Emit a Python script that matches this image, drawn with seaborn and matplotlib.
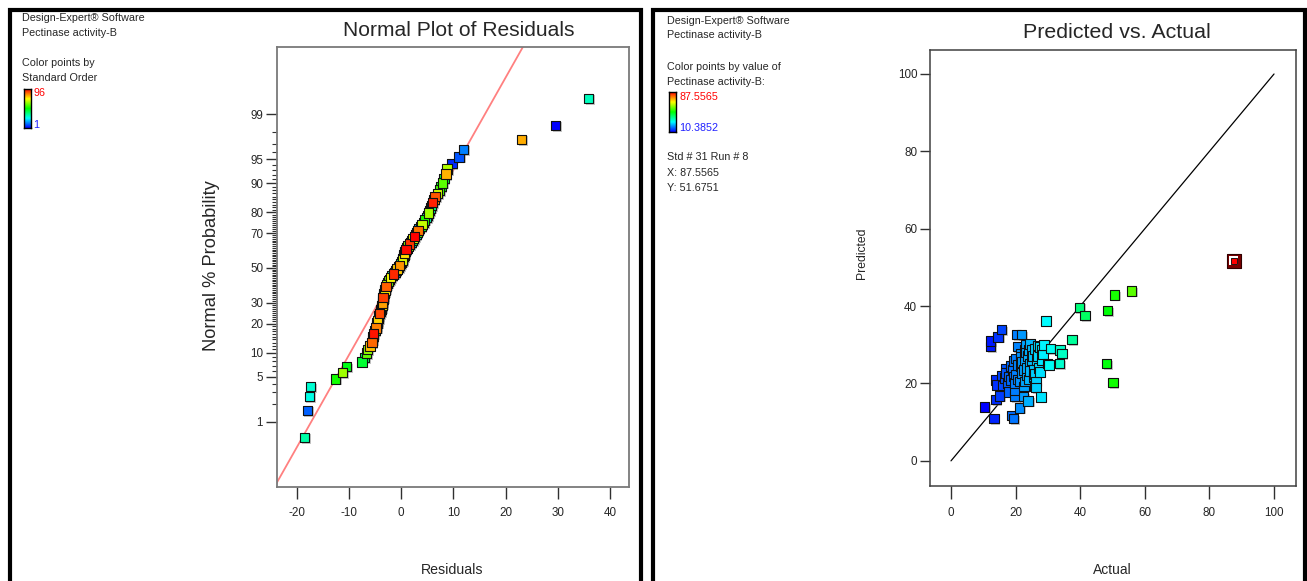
import numpy as np
import pandas as pd
import matplotlib
matplotlib.use("Agg")
import matplotlib.pyplot as plt
import seaborn as sns
from matplotlib.colors import LinearSegmentedColormap
from matplotlib.patches import Rectangle
import matplotlib.patheffects as pe
from matplotlib import font_manager
from statistics import NormalDist

# ---------------- data: Normal plot of residuals ----------------
residuals = [-18.5, -18.0, -17.6, -17.4, -12.6, -11.3, -10.5, -7.5, -7.0, -6.7,
             -6.5, -6.0, -5.6, -5.5, -5.4, -5.3, -5.0, -4.8, -4.7, -4.6,
             -4.5, -4.4, -4.3, -4.2, -4.0, -3.9, -3.8, -3.7, -3.6, -3.55,
             -3.5, -3.45, -3.4, -3.3, -3.2, -3.1, -3.0, -2.9, -2.8, -2.6,
             -2.4, -2.2, -2.1, -1.8, -1.5, -1.2, -1.0, -0.8, -0.5, -0.3,
             -0.1, 0.1, 0.2, 0.3, 0.4, 0.5, 0.6, 0.7, 0.9, 1.1,
             1.3, 1.6, 1.9, 2.1, 2.3, 2.5, 2.8, 3.0, 3.2, 3.4,
             3.8, 4.0, 4.3, 4.5, 4.8, 5.0, 5.2, 5.4, 5.6, 5.8,
             6.0, 6.3, 6.5, 6.9, 7.3, 7.6, 7.9, 8.2, 8.6, 8.8,
             9.7, 11.1, 11.9, 23.1, 29.6, 35.9]
std_order = [33, 10, 27, 29, 50, 63, 47, 44, 40, 58,
             62, 78, 86, 23, 8, 94, 52, 84, 21, 12,
             76, 48, 15, 89, 70, 2, 37, 74, 81, 18,
             54, 90, 6, 49, 25, 73, 39, 87, 66, 16,
             59, 3, 72, 34, 92, 11, 53, 77, 20, 82,
             41, 7, 69, 26, 60, 14, 75, 36, 95, 4,
             61, 91, 19, 42, 71, 96, 28, 56, 85, 17,
             43, 67, 24, 51, 32, 30, 64, 22, 35, 38,
             93, 83, 88, 68, 55, 46, 57, 45, 79, 65,
             5, 9, 13, 80, 1, 31]
prob_labels = [1, 5, 10, 20, 30, 50, 70, 80, 90, 95, 99]
prob_minor = list(range(1, 100))
residual_ticks = [-20, -10, 0, 10, 20, 30, 40]
ref_line_mean = -0.6
ref_line_sd = 7.16
std_min, std_max = 1, 96

# ---------------- data: Predicted vs Actual ----------------
actual = [87.5565, 50.1, 48.2, 55.9, 50.6, 48.5, 39.7, 41.5, 37.4, 33.7,
          34.3, 33.5, 30.3, 29.4, 20.3, 21.9, 15.7, 14.6, 12.3, 12.3,
          27.8, 23.9, 21.2, 18.8, 19.4, 13.3, 10.3852, 13.9, 15.0, 13.9,
          14.1, 19.8, 22.4, 22.6, 26.3, 26.3, 18.0, 19.1, 17.0, 21.7,
          22.7, 21.7, 23.9, 26.0, 28.1, 28.8, 26.5, 28.1, 27.0, 25.5,
          23.4, 26.0, 24.5, 19.3, 19.8, 21.4, 22.9, 21.9, 20.6, 22.7,
          24.2, 21.7, 25.0, 26.0, 29.9, 18.6, 16.5, 19.8, 20.1, 25.3,
          26.9, 20.5, 23.0, 24.5, 27.5, 25.0, 23.5, 22.0, 20.0, 18.5,
          17.5, 16.0, 18.0, 24.0, 27.5, 24.5, 20.5, 22.5, 25.5, 28.5,
          17.0, 19.5, 23.0, 26.8, 30.8, 15.8]
predicted = [51.6751, 20.3, 25.1, 43.9, 42.9, 38.8, 39.7, 37.5, 31.4, 28.7,
             27.8, 25.1, 24.8, 36.2, 32.7, 32.6, 33.9, 32.0, 31.0, 29.5,
             16.5, 15.5, 13.7, 11.7, 10.9, 11.0, 13.9, 15.8, 16.8, 20.9,
             19.6, 16.6, 16.6, 19.2, 19.0, 20.5, 21.8, 23.5, 22.7, 24.4,
             26.1, 27.0, 27.1, 28.9, 28.7, 30.0, 26.1, 25.9, 24.0, 23.5,
             22.2, 22.5, 25.2, 21.8, 20.1, 20.5, 20.5, 22.7, 24.8, 28.7,
             28.7, 27.8, 28.7, 19.4, 25.2, 20.9, 21.4, 18.3, 22.3, 27.1,
             27.1, 29.5, 30.0, 30.2, 29.4, 26.0, 24.0, 25.5, 26.5, 24.5,
             20.0, 19.5, 17.8, 21.0, 23.0, 23.2, 21.0, 23.5, 21.5, 27.5,
             23.8, 25.8, 28.0, 29.8, 29.0, 22.0]
pva_ticks = [0, 20, 40, 60, 80, 100]
selected_std, selected_run = 31, 8
selected_actual, selected_predicted = 87.5565, 51.6751
color_min, color_max = 10.3852, 87.5565

# ---------------- style ----------------
W, H = 1307, 581
sns.set_theme(style="white")
names = {f.name for f in font_manager.fontManager.ttflist}
if "Liberation Sans Narrow" in names:
    FAM = ["Liberation Sans Narrow", "DejaVu Sans"]
    K = 1.0
    KS = 1.0
else:
    FAM = ["Liberation Sans", "DejaVu Sans"]
    K = 0.82
    KS = 0.88
plt.rcParams["font.family"] = FAM

cmap = LinearSegmentedColormap.from_list(
    "de", ["#0000ff", "#00ffff", "#00ff00", "#ffff00", "#ff0000"])

fig = plt.figure(figsize=(W / 100, H / 100), dpi=100)
fig.patch.set_facecolor("white")


def fx(px):
    return px / W


def fy(py):
    return 1 - py / H


def box(l, t, r, b):
    return [fx(l), fy(b), fx(r) - fx(l), fy(t) - fy(b)]


ax1 = fig.add_axes(box(277, 47, 629, 487))
ax2 = fig.add_axes(box(930, 50, 1296, 486))

shadow = [pe.SimplePatchShadow(offset=(1.2, -1.2), shadow_rgbFace="#808080", alpha=0.45),
          pe.Normal()]

# ---------------- left: normal plot ----------------
nd = NormalDist()
n = len(residuals)
order = np.argsort(residuals, kind="stable")
rank = np.empty(n, dtype=int)
rank[order] = np.arange(1, n + 1)
zscore = [nd.inv_cdf((r - 0.5) / n) for r in rank]
df1 = pd.DataFrame({"res": residuals, "z": zscore, "std": std_order}).sort_values("std")

xl = np.array([-40.0, 60.0])
ax1.plot(xl, (xl - ref_line_mean) / ref_line_sd, color="#ff8080", lw=1.3, zorder=1)
sns.scatterplot(data=df1, x="res", y="z", hue="std", palette=cmap,
                hue_norm=(std_min, std_max), marker="s", s=46,
                edgecolor="#101010", linewidth=0.8, legend=False, ax=ax1, zorder=3)
ax1.collections[-1].set_path_effects(shadow)

ax1.set_xlim(-23.8, 43.65)
ax1.set_ylim(-3.31, 3.34)
ax1.set_xticks(residual_ticks)
ax1.set_xticklabels([str(t) for t in residual_ticks])
ax1.set_yticks([nd.inv_cdf(p / 100) for p in prob_labels])
ax1.set_yticklabels([str(p) for p in prob_labels])
ax1.set_yticks([nd.inv_cdf(p / 100) for p in prob_minor], minor=True)
ax1.tick_params(axis="x", which="major", bottom=True, direction="out", length=8.5,
                width=1.0, color="#303030", labelsize=9.5 * KS, pad=6)
ax1.tick_params(axis="y", which="major", left=True, direction="out", length=8,
                width=1.0, color="#303030", labelsize=9.5 * KS, pad=2)
ax1.tick_params(axis="y", which="minor", left=True, direction="out", length=3.5,
                width=0.8, color="#303030")
ax1.set_xlabel("")
ax1.set_ylabel("")
for s in ax1.spines.values():
    s.set_color("#7a7a7a")
    s.set_linewidth(1.3)

# ---------------- right: predicted vs actual ----------------
df2 = pd.DataFrame({"actual": actual, "predicted": predicted}).sort_values("actual")
ax2.plot([0, 100], [0, 100], color="black", lw=0.9, zorder=1)
sns.scatterplot(data=df2, x="actual", y="predicted", hue="actual", palette=cmap,
                hue_norm=(color_min, color_max), marker="s", s=46,
                edgecolor="#101010", linewidth=0.8, legend=False, ax=ax2, zorder=3)
ax2.collections[-1].set_path_effects(shadow)
ax2.scatter([selected_actual], [selected_predicted], marker="s", s=105,
            facecolor="#7a0000", edgecolor="#300000", linewidth=0.8, zorder=5)
ax2.scatter([selected_actual], [selected_predicted], marker="s", s=42,
            facecolor="white", edgecolor="none", zorder=6)
ax2.scatter([selected_actual], [selected_predicted], marker="s", s=15,
            facecolor="#ff0000", edgecolor="black", linewidth=0.6, zorder=7)

ax2.set_xlim(-6.5, 106.8)
ax2.set_ylim(-6.5, 106.2)
ax2.set_xticks(pva_ticks)
ax2.set_yticks(pva_ticks)
ax2.set_xticklabels([str(t) for t in pva_ticks])
ax2.set_yticklabels([str(t) for t in pva_ticks])
ax2.tick_params(axis="x", bottom=True, direction="out", length=9.4, width=1.0,
                color="#303030", labelsize=9.5 * KS, pad=6)
ax2.tick_params(axis="y", left=True, direction="out", length=7.2, width=1.0,
                color="#303030", labelsize=9.5 * KS, pad=2)
ax2.set_xlabel("")
ax2.set_ylabel("")
for s in ax2.spines.values():
    s.set_color("#404040")
    s.set_linewidth(1.1)

# ---------------- panel borders ----------------
fig.add_artist(Rectangle((fx(10), fy(600)), fx(641) - fx(10), fy(10) - fy(600),
                         transform=fig.transFigure, fill=False, edgecolor="black",
                         linewidth=3, zorder=10))
fig.add_artist(Rectangle((fx(653), fy(600)), fx(1304.5) - fx(653), fy(10) - fy(600),
                         transform=fig.transFigure, fill=False, edgecolor="black",
                         linewidth=3, zorder=10))

# ---------------- texts ----------------
def T(x, y, s, size, k=K, **kw):
    kw.setdefault("ha", "left")
    kw.setdefault("va", "center")
    fig.text(fx(x), fy(y), s, fontsize=size * k, **kw)


info = 8.8
T(22, 18, "Design-Expert® Software", info, KS)
T(22, 33, "Pectinase activity-B", info, KS)
T(22, 63, "Color points by", info, KS)
T(22, 78, "Standard Order", info, KS)
T(33, 93, str(std_max), info, KS, color="#ff0000")
T(33, 125, str(std_min), info, KS, color="#2020ff")

T(667, 21, "Design-Expert® Software", info, KS)
T(667, 35, "Pectinase activity-B", info, KS)
T(667, 67, "Color points by value of", info, KS)
T(667, 82, "Pectinase activity-B:", info, KS)
T(679, 97, f"{color_max:.4f}", info, KS, color="#ff0000")
T(679, 128, f"{color_min:.4f}", info, KS, color="#2020ff")
T(667, 157, f"Std # {selected_std} Run # {selected_run}", info, KS)
T(667, 173, f"X: {selected_actual:.4f}", info, KS)
T(667, 188, f"Y: {selected_predicted:.4f}", info, KS)

T(459, 30, "Normal Plot of Residuals", 18.5, ha="center")
T(1117, 32, "Predicted vs. Actual", 18.8, ha="center")
T(452, 570, "Residuals", 12.4, ha="center")
T(1112, 570, "Actual", 12.2, ha="center")
T(211, 266, "Normal % Probability", 16, ha="center", rotation=90)
T(862, 253, "Predicted", 10.6, ha="center", rotation=90)

# ---------------- colour legends ----------------
grad = np.linspace(0, 1, 256).reshape(-1, 1)
for (l, t, r, b) in [(24, 89, 31, 128), (669, 92, 676, 132)]:
    cax = fig.add_axes(box(l, t, r, b))
    cax.imshow(grad, aspect="auto", cmap=cmap, origin="lower")
    cax.set_xticks([])
    cax.set_yticks([])
    for s in cax.spines.values():
        s.set_color("black")
        s.set_linewidth(1.0)

fig.savefig("out.png", dpi=100, facecolor="white")
